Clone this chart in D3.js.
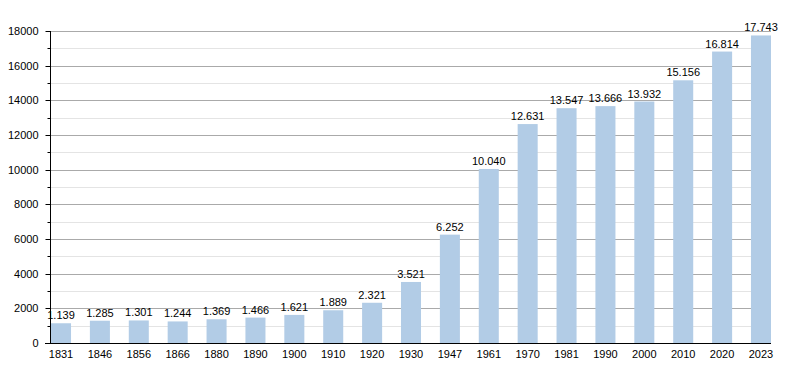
<!DOCTYPE html>
<html>
<head>
<meta charset="utf-8">
<script src="https://cdn.jsdelivr.net/npm/d3@7"></script>
<style>
  body { margin: 0; background: #fff; }
  svg text { font-family: "Liberation Sans", Arial, sans-serif; font-size: 11px; fill: #000; }
</style>
</head>
<body>
<svg id="chart" width="800" height="373"></svg>
<script>
// Population per census year
const years = ['1831', '1846', '1856', '1866', '1880', '1890', '1900', '1910', '1920', '1930',
               '1947', '1961', '1970', '1981', '1990', '2000', '2010', '2020', '2023'];
const population = [1139, 1285, 1301, 1244, 1369, 1466, 1621, 1889, 2321, 3521,
                    6252, 10040, 12631, 13547, 13666, 13932, 15156, 16814, 17743];
const majorTicks = [0, 2000, 4000, 6000, 8000, 10000, 12000, 14000, 16000, 18000];
const minorTicks = [1000, 3000, 5000, 7000, 9000, 11000, 13000, 15000, 17000];

const svg = d3.select('#chart');
const plotLeft = 51, plotRight = 771, plotTop = 31, plotBottom = 343;

const x = d3.scaleBand().domain(years).range([plotLeft, plotRight]).paddingInner(0.485).paddingOuter(0);
const y = d3.scaleLinear().domain([0, 18000]).range([plotBottom, plotTop]);

// Fmt like 1.139 (dot as thousands separator)
const fmt = v => d3.format(',')(v).replace(/,/g, '.');
const yPix = d => Math.round(y(d)) + 0.5;

// Grid lines
svg.append('g').selectAll('line').data(minorTicks).join('line')
    .attr('x1', 50).attr('x2', plotRight)
    .attr('y1', yPix).attr('y2', yPix)
    .attr('stroke', '#e4e4e4');
svg.append('g').selectAll('line').data(majorTicks.slice(1)).join('line')
    .attr('x1', 50).attr('x2', plotRight)
    .attr('y1', yPix).attr('y2', yPix)
    .attr('stroke', '#aaaaaa');

// Bars
svg.append('g').selectAll('rect').data(population).join('rect')
    .attr('x', (d, i) => x(years[i]))
    .attr('y', d => y(d))
    .attr('width', x.bandwidth())
    .attr('height', d => plotBottom - y(d))
    .attr('fill', '#b2cce6');

// Value labels
svg.append('g').selectAll('text').data(population).join('text')
    .attr('x', (d, i) => x(years[i]) + x.bandwidth() / 2)
    .attr('y', d => y(d) - 4)
    .attr('text-anchor', 'middle')
    .text(d => fmt(d));

// Y axis
const yAxis = svg.append('g').attr('transform', 'translate(50.5,0)');
yAxis.append('line').attr('y1', plotTop).attr('y2', plotBottom).attr('stroke', '#000');
yAxis.selectAll('.major').data(majorTicks).join('line')
    .attr('x1', -5).attr('x2', 0)
    .attr('y1', yPix).attr('y2', yPix)
    .attr('stroke', '#000');
yAxis.selectAll('.minor').data(minorTicks).join('line')
    .attr('x1', -3).attr('x2', 0)
    .attr('y1', yPix).attr('y2', yPix)
    .attr('stroke', '#000');
yAxis.selectAll('text').data(majorTicks).join('text')
    .attr('x', -12)
    .attr('y', d => y(d) + 4)
    .attr('text-anchor', 'end')
    .text(d => d);

// X axis
svg.append('line')
    .attr('x1', 45).attr('x2', plotRight)
    .attr('y1', plotBottom + 0.5).attr('y2', plotBottom + 0.5)
    .attr('stroke', '#000');
svg.append('g').selectAll('text').data(years).join('text')
    .attr('x', d => x(d) + x.bandwidth() / 2)
    .attr('y', plotBottom + 15)
    .attr('text-anchor', 'middle')
    .text(d => d);
</script>
</body>
</html>
